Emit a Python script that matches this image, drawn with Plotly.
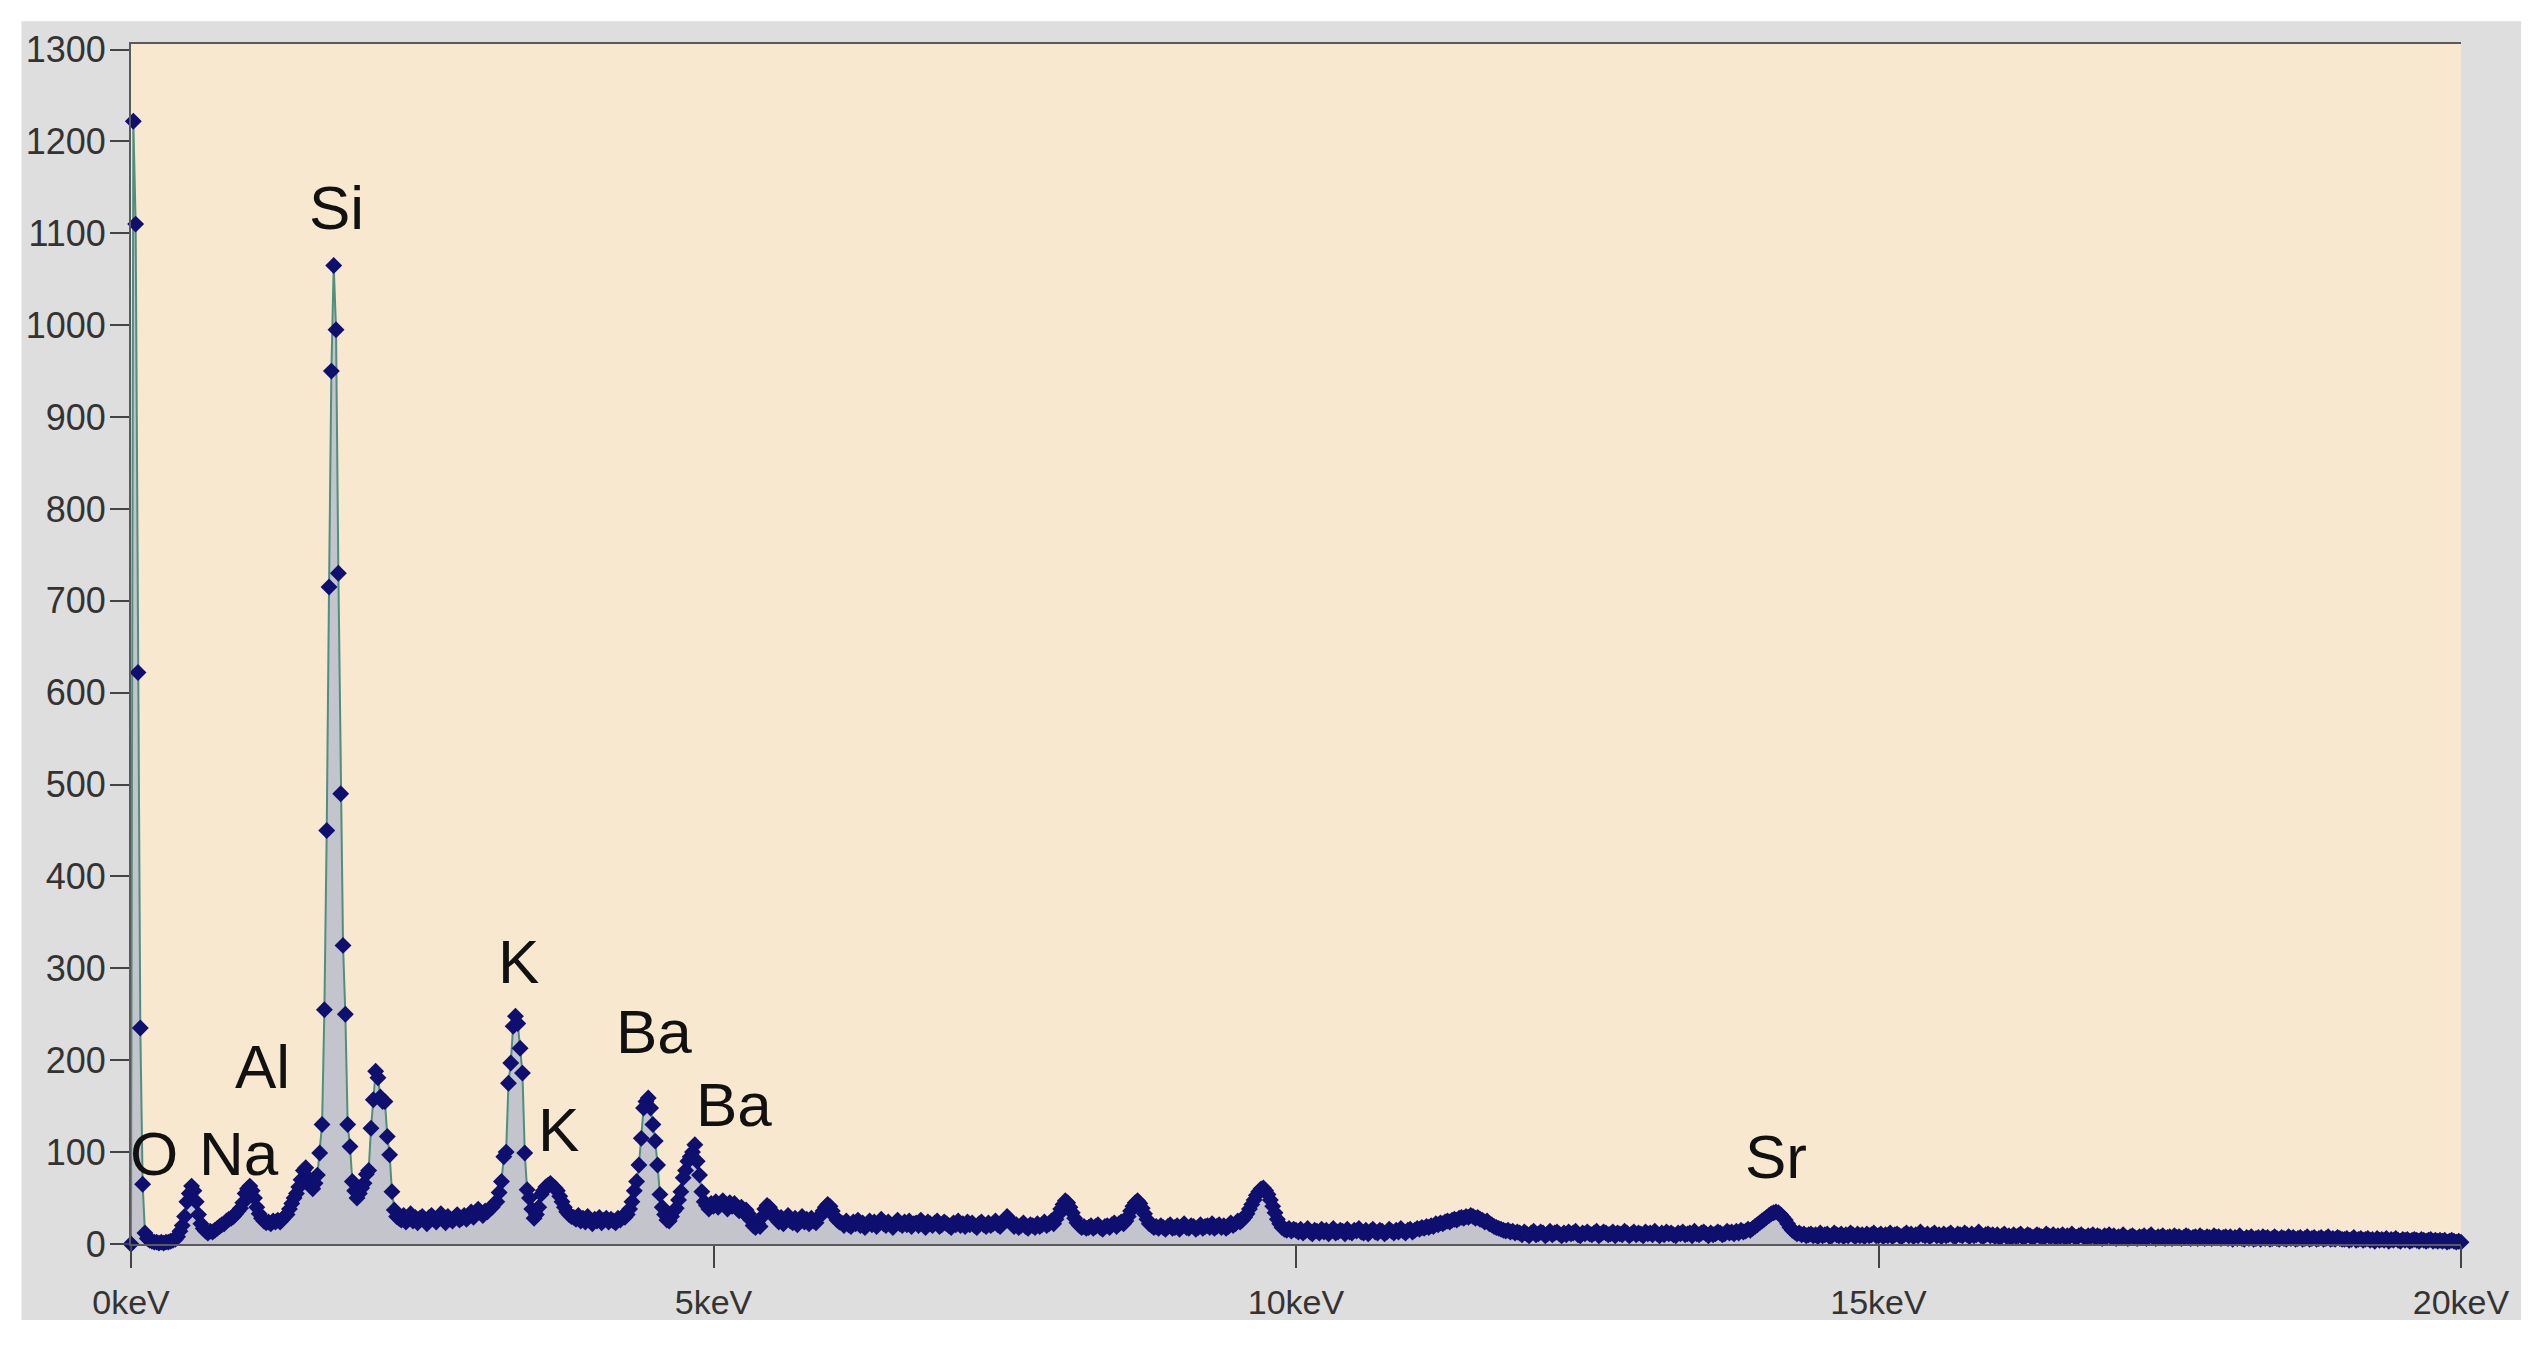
import plotly.graph_objects as go

# EDS spectrum, 0.02 keV per channel
kev_per_channel = 0.02

# channels 0-149 (0.00-2.98 keV)
counts_0_3kev = [
    0, 1222, 1110, 622, 235, 65, 12, 6, 4, 3,
    2, 2, 1, 2, 1, 2, 2, 3, 4, 5,
    8, 14, 20, 30, 46, 55, 63, 58, 46, 32,
    22, 17, 14, 12, 14, 13, 15, 17, 19, 21,
    22, 25, 27, 28, 30, 33, 36, 39, 45, 55,
    60, 63, 58, 50, 40, 33, 28, 25, 23, 24,
    22, 25, 24, 26, 24, 27, 30, 32, 38, 44,
    50, 55, 62, 70, 80, 83, 72, 64, 60, 66,
    75, 99, 130, 255, 450, 715, 950, 1065, 995, 730,
    490, 325, 250, 130, 106, 68, 58, 50, 55, 61,
    66, 76, 80, 126, 157, 188, 181, 160, 155, 155,
    117, 97, 57, 37, 30, 28, 26, 31, 24, 27,
    33, 25, 29, 23, 28, 30, 26, 22, 29, 31,
    27, 24, 28, 33, 26, 23, 30, 27, 25, 29,
    32, 26, 28, 31, 27, 30, 35, 29, 33, 38,
]

# channels 150-299 (3.00-5.98 keV)
counts_3_6kev = [
    34, 31, 36, 35, 38,
    40, 44, 46, 56, 68, 95, 100, 175, 197, 237,
    248, 240, 213, 186, 99, 59, 50, 38, 28, 32,
    40, 54, 58, 62, 64, 66, 63, 61, 58, 52,
    46, 40, 35, 32, 30,
    29, 27, 31, 25, 28, 24, 30, 26, 22, 27,
    25, 29, 23, 26, 28, 24, 27, 25, 23, 28,
    26, 30, 29,
    32, 38, 46, 58, 68, 86, 115, 148, 155, 159,
    148, 130, 112, 86, 54, 40,
    32, 26, 25, 30, 36, 39, 48, 57, 72, 80,
    90, 95, 100, 108, 90, 75, 57, 46, 42,
    38, 44, 41, 46, 40, 43, 47, 42, 38, 45,
    41, 44, 39, 36, 40, 34, 37, 33,
    26, 20, 18, 22, 19,
    30, 38, 42, 40, 36, 31,
    27, 24, 29, 22, 26, 31, 25, 23, 28, 21,
    26, 30, 24, 27, 22, 28, 25, 23, 29, 31,
    36, 40, 43,
]

# channels 300-499 (6.00-9.98 keV)
counts_6_10kev = [
    41, 36, 30, 26, 24,
    23, 20, 25, 21, 19, 24, 22, 26, 20, 23,
    18, 22, 25, 21, 24, 19, 23, 27, 22, 20,
    24, 21, 18, 23, 26, 22, 20, 24, 21, 25,
    19, 22, 23, 20, 26, 21, 18, 24, 22, 20,
    23, 25, 19, 21, 24, 22, 20, 18, 23, 21,
    25, 20, 22, 19, 24, 21, 23, 20, 18, 22,
    24, 21, 19, 23, 20, 22, 25, 21, 19, 22,
    26, 30, 27, 22, 19, 21, 18, 20, 23, 19,
    17, 21, 20, 18, 22, 19, 21, 24, 20, 22, 25,
    22, 27, 32, 38, 43, 47, 45, 40, 34, 28,
    23, 20, 18, 19, 17,
    18, 20, 17, 19, 21, 18, 16, 19, 20, 18,
    21, 23, 19, 22, 24,
    22, 25, 30, 36, 41, 45, 47, 44, 39, 33,
    27, 22, 20, 18, 19,
    17, 20, 18, 16, 19, 21, 17, 18, 20, 16,
    19, 22, 18, 17, 20, 19, 16, 18, 21, 17,
    19, 20, 18, 22, 17, 19, 21, 18, 20, 17,
    19, 23, 20, 22, 25,
    24, 26, 29, 33, 38, 43, 48, 53, 57, 60,
    61, 58, 54, 48, 41, 34, 27, 22, 18, 16,
    15, 17, 14, 16,
]

# channels 500-749 (10.00-14.98 keV)
counts_10_15kev = [
    15, 13, 16, 12, 14, 17, 13, 11, 15, 14,
    12, 16, 13, 15, 11, 14, 17, 12, 13, 15,
    14, 11, 16, 13, 12, 15, 14, 17, 13, 12,
    15, 11, 14, 16, 13, 12, 15, 14, 11, 13,
    16, 14, 12, 15, 13, 17, 14, 12, 15, 16,
    13, 15, 17, 16, 18,
    17, 19, 18, 20, 19, 22, 21, 23, 22, 24,
    25, 24, 26, 27, 26, 28, 29, 28, 30, 29,
    31, 30, 28, 29, 27, 26, 24, 25, 22, 21,
    19, 18, 17, 16, 15, 14, 15, 13, 14, 12, 13,
    12, 10, 13, 11, 9, 12, 14, 10, 11, 13,
    12, 9, 11, 14, 10, 12, 13, 11, 9, 12,
    10, 13, 11, 12, 14, 10, 9, 12, 11, 13,
    11, 10, 12, 14, 9, 11, 13, 12, 10, 11,
    13, 9, 12, 11, 10, 14, 12, 9, 11, 13,
    10, 12, 11, 9, 13, 11, 12, 10, 14, 11,
    9, 12, 10, 13, 11, 12, 10, 9, 12, 11,
    13, 10, 11, 12, 9, 14, 11, 10, 12, 13,
    11, 9, 12, 10, 11, 13, 12, 10, 11, 14,
    12, 13, 11, 14, 12, 15, 13, 14, 16, 15,
    17, 19, 21, 23, 25, 27, 29, 31, 33, 34,
    35, 34, 32, 29, 26, 22, 18, 15, 13, 11,
    12, 10, 11, 9, 10,
    11, 9, 10, 8, 12, 9, 10, 11, 8, 9,
    12, 10, 9, 11, 8, 10, 9, 12, 10, 8,
    11, 9, 10, 8, 11, 9, 10, 12, 9,
]

# channels 750-1000 (15.00-20.00 keV)
counts_15_20kev = [
    9, 11, 8, 10, 9, 12, 8, 10, 11, 9,
    8, 10, 12, 9, 11, 8, 10, 9, 13, 10,
    9, 11, 8, 10, 12, 9, 10, 8, 11, 9,
    10, 12, 9, 8, 11, 10, 9, 12, 10, 8,
    11, 9, 10, 13, 9, 8, 10, 11, 9, 10,
    8, 10, 7, 9, 11, 8, 9, 7, 10, 8,
    9, 11, 7, 8, 10, 9, 7, 8, 10, 9,
    8, 7, 11, 9, 8, 10, 7, 9, 8, 10,
    7, 9, 8, 11, 8, 7, 9, 10, 8, 7,
    9, 8, 10, 7, 9, 8, 6, 9, 8, 10,
    7, 9, 6, 8, 7, 10, 7, 6, 8, 9,
    7, 6, 8, 7, 9, 6, 8, 10, 7, 6,
    8, 7, 9, 6, 7, 8, 6, 9, 7, 8,
    6, 7, 9, 8, 6, 7, 8, 6, 9, 7,
    6, 8, 7, 6, 9, 7, 8, 6, 7, 8,
    6, 8, 5, 7, 6, 9, 6, 5, 7, 6,
    8, 5, 6, 7, 5, 8, 6, 7, 5, 6,
    8, 6, 5, 7, 6, 5, 8, 6, 7, 5,
    6, 7, 5, 6, 8, 5, 6, 7, 5, 6,
    7, 5, 6, 8, 5, 6, 5, 7, 6, 5,
    5, 6, 4, 5, 7, 4, 5, 6, 4, 5,
    6, 4, 5, 3, 6, 4, 5, 4, 6, 3,
    5, 4, 6, 4, 3, 5, 4, 5, 3, 4,
    5, 4, 3, 5, 4, 3, 4, 5, 3, 4,
    3, 4, 3, 4, 2, 3, 4, 3, 2, 3, 2,
]

counts = counts_0_3kev + counts_3_6kev + counts_6_10kev + counts_10_15kev + counts_15_20kev
energy = [round(i * kev_per_channel, 2) for i in range(len(counts))]

x_ticks = [0, 5, 10, 15, 20]
x_tick_labels = ["0keV", "5keV", "10keV", "15keV", "20keV"]
y_ticks = list(range(0, 1301, 100))

peak_labels = ["O", "Na", "Al", "Si", "K", "K", "Ba", "Ba", "Sr"]
label_pos = [(0.2, 99), (0.93, 99), (1.13, 193), (1.76, 1128), (3.33, 308),
             (3.67, 125), (4.49, 231), (5.18, 152), (14.12, 95)]

fig = go.Figure(go.Scatter(
    x=energy, y=counts,
    mode="lines+markers",
    line=dict(color="#4f8f80", width=2),
    marker=dict(symbol="diamond", size=13, color="#0f0f70"),
    fill="tozeroy",
    fillcolor="#c3c4cc",
    cliponaxis=False,
))

for txt, (px, py) in zip(peak_labels, label_pos):
    fig.add_annotation(x=px, y=py, text=txt, showarrow=False,
                       font=dict(size=62, color="#111111"))

fig.update_layout(
    width=2539, height=1346,
    margin=dict(l=123, r=86, t=36, b=110),
    paper_bgcolor="white",
    plot_bgcolor="#f9e8d0",
    showlegend=False,
    font=dict(family="Liberation Sans, Arial, sans-serif", color="#333333"),
    shapes=[
        # grey panel around the chart
        dict(type="rect", xref="paper", yref="paper", x0=-0.047, x1=1.0258,
             y0=-0.0633, y1=1.019, fillcolor="#dedede", line_width=0, layer="below"),
        # cream plot area
        dict(type="rect", xref="paper", yref="paper", x0=0, x1=1, y0=0, y1=1,
             fillcolor="#f9e8d0", line_width=0, layer="below"),
    ],
)
fig.update_xaxes(
    range=[0, 20], tickvals=x_ticks, ticktext=x_tick_labels,
    showgrid=False, zeroline=False,
    showline=True, linecolor="#5a5a5a", linewidth=2, mirror=True,
    ticks="outside", ticklen=22, tickwidth=2, tickcolor="#444444",
    ticklabelstandoff=5,
    tickfont=dict(size=34, color="#333333"),
)
fig.update_yaxes(
    range=[0, 1306], tickvals=y_ticks,
    showgrid=False, zeroline=False,
    showline=True, linecolor="#5a5a5a", linewidth=2,
    ticks="outside", ticklen=19, tickwidth=2, tickcolor="#444444",
    ticklabelstandoff=-3,
    tickfont=dict(size=36, color="#333333"),
)

fig.write_html("out.html")
